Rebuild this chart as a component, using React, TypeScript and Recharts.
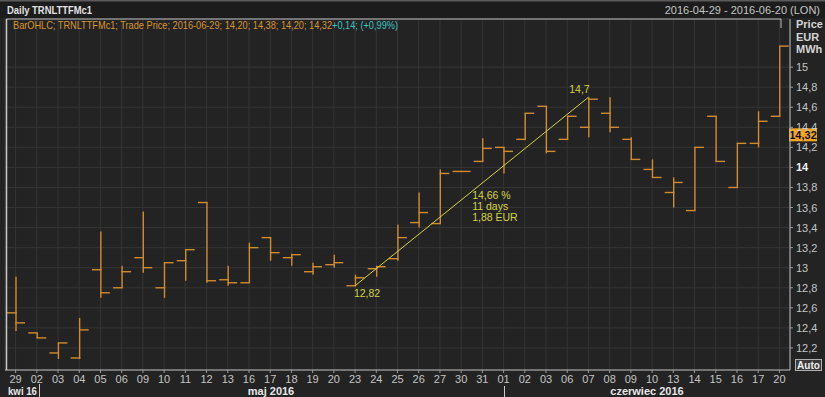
import {
  ComposedChart, Bar, XAxis, YAxis, CartesianGrid, ReferenceLine, ReferenceDot,
} from "recharts";

// Daily TRNLTTFMc1 OHLC, 2016-04-29 .. 2016-06-20
const DATES = [
  "2016-04-29", "2016-05-02", "2016-05-03", "2016-05-04", "2016-05-05", "2016-05-06",
  "2016-05-09", "2016-05-10", "2016-05-11", "2016-05-12", "2016-05-13", "2016-05-16",
  "2016-05-17", "2016-05-18", "2016-05-19", "2016-05-20", "2016-05-23", "2016-05-24",
  "2016-05-25", "2016-05-26", "2016-05-27", "2016-05-30", "2016-05-31", "2016-06-01",
  "2016-06-02", "2016-06-03", "2016-06-06", "2016-06-07", "2016-06-08", "2016-06-09",
  "2016-06-10", "2016-06-13", "2016-06-14", "2016-06-15", "2016-06-16", "2016-06-17",
  "2016-06-20",
];
const OPENS = [
  12.55, 12.35, 12.15, 12.10, 12.98, 12.80, 13.10, 12.80, 13.07, 13.65, 12.88, 12.85,
  13.30, 13.10, 12.96, 13.03, 12.82, 12.99, 13.09, 13.45, 13.44, 13.96, 14.06, 14.20,
  14.28, 14.61, 14.28, 14.40, 14.54, 14.28, 13.98, 13.75, 13.57, 14.51, 13.80, 14.24,
  14.51,
];
const HIGHS = [
  12.91, 12.35, 12.25, 12.50, 13.36, 13.02, 13.56, 13.05, 13.18, 13.65, 13.02, 13.25,
  13.30, 13.14, 13.05, 13.13, 12.93, 13.02, 13.43, 13.75, 13.98, 13.96, 14.29, 14.20,
  14.54, 14.61, 14.51, 14.70, 14.70, 14.30, 14.08, 13.90, 14.20, 14.51, 14.24, 14.56,
  15.21,
];
const LOWS = [
  12.37, 12.30, 12.09, 12.09, 12.70, 12.80, 12.95, 12.70, 12.87, 12.85, 12.82, 12.85,
  13.07, 13.02, 12.93, 13.00, 12.82, 12.91, 13.07, 13.40, 13.44, 13.955, 14.06, 13.94,
  14.28, 14.14, 14.28, 14.30, 14.35, 14.08, 13.90, 13.60, 13.57, 14.06, 13.80, 14.20,
  14.51,
];
const CLOSES = [
  12.45, 12.30, 12.25, 12.38, 12.75, 12.96, 13.00, 13.05, 13.18, 12.87, 12.85, 13.20,
  13.15, 13.13, 13.01, 13.05, 12.90, 13.01, 13.30, 13.55, 13.94, 13.96, 14.19, 14.16,
  14.54, 14.16, 14.51, 14.68, 14.40, 14.08, 13.90, 13.85, 14.20, 14.06, 14.24, 14.46,
  15.21,
];
const Y_TICKS = [12.2, 12.4, 12.6, 12.8, 13, 13.2, 13.4, 13.6, 13.8, 14, 14.2, 14.4, 14.6, 14.8, 15];

const TREND_START = { date: "2016-05-23", value: 12.82 };
const TREND_END = { date: "2016-06-07", value: 14.7 };
const TREND_STATS = ["14,66 %", "11 days", "1,88 EUR"];
const LAST_PRICE = 14.32;

const ORANGE = "#cf8b2e";
const YELLOW = "#d4d43c";
const FONT = "'Liberation Sans Narrow', 'Liberation Sans', Arial, sans-serif";

const data = DATES.map((date, i) => ({
  date, open: OPENS[i], high: HIGHS[i], low: LOWS[i], close: CLOSES[i],
}));

const fmt = (v: number) => String(Math.round(v * 100) / 100).replace(".", ",");

function OhlcShape(props: any) {
  const { x, y, width, height, payload } = props;
  if (x == null || y == null) return null;
  const top = Math.min(y, y + height);
  const h = Math.abs(height);
  const span = payload.high - payload.low;
  const py = (v: number) => (span > 0 ? top + ((payload.high - v) / span) * h : top);
  const cx = x + width / 2;
  return (
    <g stroke={ORANGE} strokeWidth={1.4}>
      <line x1={cx} x2={cx} y1={top} y2={top + h} />
      <line x1={cx - 9} x2={cx + 0.7} y1={py(payload.open)} y2={py(payload.open)} />
      <line x1={cx - 0.7} x2={cx + 9} y1={py(payload.close)} y2={py(payload.close)} />
    </g>
  );
}

function YTick({ x, y, payload }: any) {
  const bold = payload.value === 14;
  return (
    <text x={x} y={y} dy={4} fill={bold ? "#f0f0f0" : "#c4c4c4"} fontSize={11}
      fontWeight={bold ? "bold" : "normal"} fontFamily={FONT} textAnchor="start">
      {fmt(payload.value)}
    </text>
  );
}

function PriceTag({ viewBox }: any) {
  if (!viewBox) return null;
  const right = viewBox.x + viewBox.width;
  return (
    <g>
      <rect x={right - 1} y={viewBox.y - 7} width={28} height={13} fill="#f2a424" />
      <text x={right + 13} y={viewBox.y + 4} textAnchor="middle" fontSize={11}
        fontWeight="bold" fill="#111" fontFamily={FONT}>{fmt(LAST_PRICE)}</text>
    </g>
  );
}

function StatsLabel({ viewBox }: any) {
  if (!viewBox) return null;
  return (
    <g>
      {TREND_STATS.map((t, i) => (
        <text key={t} x={viewBox.x + 11} y={viewBox.y + 3 + i * 11} fontSize={10.5}
          fill={YELLOW} fontFamily={FONT}>{t}</text>
      ))}
    </g>
  );
}

export default function App() {
  return (
    <div style={{ position: "absolute", left: 0, top: 0, width: 825, height: 397, background: "#232323", fontFamily: FONT }}>
      <ComposedChart width={825} height={397} data={data}
        margin={{ top: 19, right: 1, bottom: 0, left: 5 }}>
        <CartesianGrid stroke="#353535" strokeWidth={1} />
        <XAxis dataKey="date" interval={0} height={27} tickFormatter={(d: string) => d.slice(8)}
          tick={{ fill: "#c4c4c4", fontSize: 11, fontFamily: FONT }} tickSize={3} tickMargin={2}
          axisLine={{ stroke: "#bdbdbd" }} tickLine={{ stroke: "#9a9a9a" }} />
        <YAxis orientation="right" width={34} domain={[11.98, 15.48]} ticks={Y_TICKS}
          tick={<YTick />} tickSize={3} tickMargin={3} interval={0}
          axisLine={{ stroke: "#bdbdbd" }} tickLine={{ stroke: "#9a9a9a" }} />
        <Bar dataKey={(d: any) => [d.low, d.high]} barSize={18} shape={<OhlcShape />}
          isAnimationActive={false} />
        <ReferenceLine segment={[{ x: TREND_START.date, y: TREND_START.value }, { x: TREND_END.date, y: TREND_END.value }]}
          stroke={YELLOW} strokeWidth={1} ifOverflow="visible" />
        <ReferenceDot x={TREND_START.date} y={TREND_START.value} r={0} fill="none" stroke="none"
          label={{ value: fmt(TREND_START.value), position: "bottom", fill: YELLOW, fontSize: 10.5, fontFamily: FONT, offset: 4, dx: 12 }} />
        <ReferenceDot x={TREND_END.date} y={TREND_END.value} r={0} fill="none" stroke="none"
          label={{ value: fmt(TREND_END.value), position: "top", fill: YELLOW, fontSize: 10.5, fontFamily: FONT, offset: 4, dx: -9 }} />
        <ReferenceDot x="2016-05-30" y={13.72} r={0} fill="none" stroke="none" label={<StatsLabel />} />
        <ReferenceLine y={LAST_PRICE} stroke="none" ifOverflow="visible" label={<PriceTag />} />
      </ComposedChart>
      <svg width={825} height={397} style={{ position: "absolute", left: 0, top: 0, pointerEvents: "none" }}>
        <rect x={0} y={0} width={825} height={18} fill="#1c1c1c" />
        <line x1={0} x2={825} y1={0.5} y2={0.5} stroke="#5a5a5a" strokeWidth={2} />
        <text x={7} y={14} fontSize={11} fontWeight="bold" fill="#e2e2e2" fontFamily={FONT}
          textLength={85} lengthAdjust="spacingAndGlyphs">Daily TRNLTTFMc1</text>
        <text x={820} y={14} fontSize={11} fill="#c4c4c4" fontFamily={FONT} textAnchor="end">
          2016-04-29 - 2016-06-20 (LON)
        </text>
        <line x1={6.5} x2={781} y1={19} y2={19} stroke="#bdbdbd" strokeWidth={1} />
        <line x1={6.5} x2={6.5} y1={19} y2={370} stroke="#c8c8c8" strokeWidth={1.5} />
        <line x1={781} x2={781} y1={19} y2={28} stroke="#bdbdbd" strokeWidth={1} />
        <text x={13} y={29} fontSize={11} fontFamily={FONT} textLength={385} lengthAdjust="spacingAndGlyphs">
          <tspan fill="#d8962e">BarOHLC; TRNLTTFMc1; Trade Price; 2016-06-29; 14,20; 14,38; 14,20; 14,32</tspan>
          <tspan fill="#3cc4c4">+0,14; (+0,99%)</tspan>
        </text>
        <text x={796} y={28} fontSize={11} fontWeight="bold" fill="#d4d4d4" fontFamily={FONT}>Price</text>
        <text x={796} y={41} fontSize={11} fontWeight="bold" fill="#d4d4d4" fontFamily={FONT}>EUR</text>
        <text x={796} y={53} fontSize={11} fontWeight="bold" fill="#d4d4d4" fontFamily={FONT}>MWh</text>
        <rect x={795.5} y={359.5} width={26} height={11} fill="#3a3a3a" stroke="#b0b0b0" />
        <text x={808.5} y={368.5} fontSize={10} fontWeight="bold" fill="#eeeeee" fontFamily={FONT} textAnchor="middle">Auto</text>
        <text x={8} y={395} fontSize={11} fontWeight="bold" fill="#e6e6e6" fontFamily={FONT}
          textLength={29} lengthAdjust="spacingAndGlyphs">kwi 16</text>
        <line x1={39.5} x2={39.5} y1={384} y2={397} stroke="#cccccc" />
        <text x={271} y={395} fontSize={11} fontWeight="bold" fill="#e6e6e6" fontFamily={FONT} textAnchor="middle">maj 2016</text>
        <line x1={504.5} x2={504.5} y1={386} y2={397} stroke="#cccccc" />
        <text x={647} y={395} fontSize={11} fontWeight="bold" fill="#e6e6e6" fontFamily={FONT} textAnchor="middle">czerwiec 2016</text>
      </svg>
    </div>
  );
}
